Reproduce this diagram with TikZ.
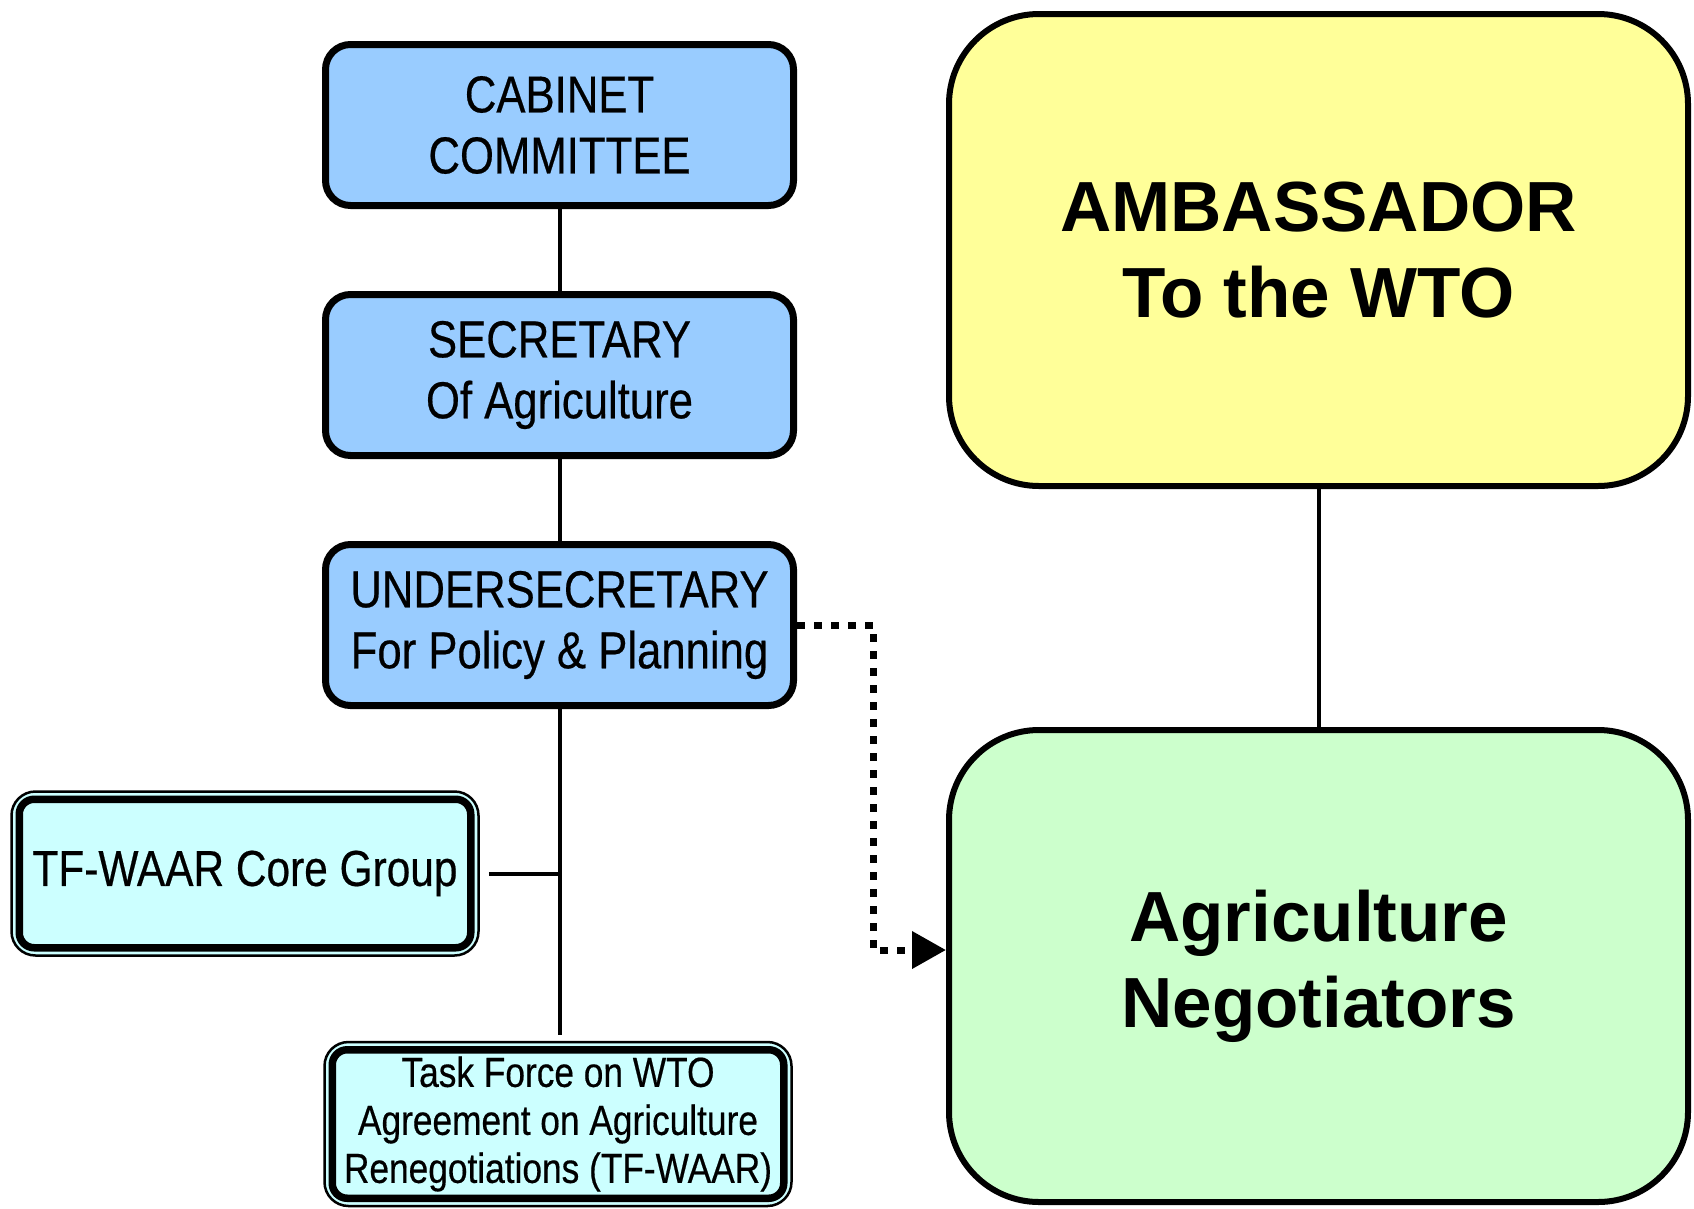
\documentclass[tikz,border=0pt]{standalone}
\usepackage{fontspec}
\setmainfont{Liberation Sans}
\newfontfamily\narrowfont{Liberation Sans}[FakeStretch=0.84,FakeBold=0.4]
\usetikzlibrary{arrows.meta}

\definecolor{paleblue}{HTML}{99CCFF}
\definecolor{palecyan}{HTML}{CCFFFF}
\definecolor{paleyellow}{HTML}{FFFF99}
\definecolor{palegreen}{HTML}{CCFFCC}

\begin{document}
\begin{tikzpicture}[x=1pt,y=-1pt,
    bluebox/.style={draw, line width=7pt, rounded corners=25pt, fill=paleblue,
        minimum width=468pt, minimum height=161pt, inner sep=0pt, align=center,
        font={\narrowfont\fontsize{52}{61}\selectfont}},
    cyanbox/.style={draw, line width=2.5pt, rounded corners=24pt, fill=palecyan,
        minimum width=467pt, minimum height=164pt, inner sep=0pt, align=center},
    innerline/.style={line width=7.5pt, rounded corners=15pt},
    bigbox/.style={draw, line width=6pt, rounded corners=90pt,
        minimum width=739pt, minimum height=472pt, inner sep=0pt, align=center,
        font={\bfseries\fontsize{71}{86}\selectfont}},
    link/.style={line width=4pt},
    dotlink/.style={line width=7pt, dash pattern=on 8pt off 9pt,
        -{Triangle[length=34pt,width=36pt]}}]

    \useasboundingbox (0,0) rectangle (1694,1208);

    % Left chain
    \node[bluebox] (cabinet) at (559.5,125) {CABINET\\COMMITTEE};
    \node[bluebox] (secretary) at (559.5,375) {SECRETARY\\Of Agriculture};
    \node[bluebox] (under) at (559.5,625) {UNDERSECRETARY\\For Policy \& Planning};

    \node[cyanbox, font={\narrowfont\fontsize{50.5}{60}\selectfont}] (core) at (245,873.5) {TF-WAAR Core Group};
    \node[cyanbox, font={\narrowfont\fontsize{42}{48}\selectfont}] (task) at (558,1124)
        {Task Force on WTO\\Agreement on Agriculture\\Renegotiations (TF-WAAR)};
    \foreach \n in {core,task}{
    \draw[innerline] ([shift={(9,9)}]\n.north west) rectangle ([shift={(-9,-9)}]\n.south east);
    }

    % Right side
    \node[bigbox, fill=paleyellow] (amb) at (1318.5,250) {AMBASSADOR\\To the WTO};
    \node[bigbox, fill=palegreen] (neg) at (1318.5,966) {Agriculture\\Negotiators};

    % Connectors
    \coordinate (junction) at (under.south |- core.east);
    \coordinate (bend) at (873,950);
    \draw[link] (cabinet) -- (secretary);
    \draw[link] (secretary) -- (under);
    \draw[link, shorten >=6pt] (under.south) -- (under.south |- task.north);
    \draw[link, shorten <=9pt] (core.east) -- (junction);
    \draw[link] (amb) -- (neg);
    \draw[dotlink] (under.east) -| (bend) -- (bend -| neg.west);
\end{tikzpicture}
\end{document}
